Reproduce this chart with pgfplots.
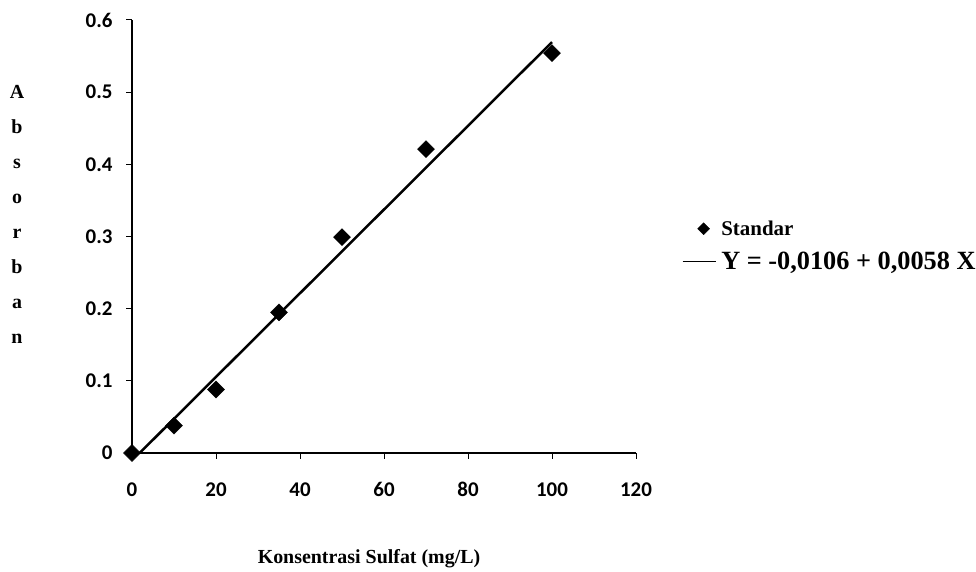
\documentclass[border=0pt]{standalone}
\usepackage{fontspec}
\setmainfont{Liberation Serif}
\newfontfamily\carlito{Carlito}
\usepackage{pgfplots}
\pgfplotsset{compat=1.18}
\pgfplotsset{
  marklegend/.style={legend image code/.code={\draw[##1, mark size=4.2bp] plot coordinates {(21bp,0bp)};}},
  linelegend/.style={legend image code/.code={\draw[##1, line width=1.3bp] (0bp,0bp) -- (33bp,0bp);}},
}
\begin{document}
\begin{tikzpicture}
\useasboundingbox (0bp,0bp) rectangle (976bp,572bp);
\begin{axis}[
  at={(132bp,119bp)}, anchor=south west,
  scale only axis, width=504bp, height=433bp,
  xmin=0, xmax=120, ymin=0, ymax=0.6,
  axis x line=bottom, axis y line=left,
  axis line style={-, line width=1.4bp, black},
  xtick={0,20,40,60,80,100,120},
  ytick={0,0.1,0.2,0.3,0.4,0.5,0.6},
  tick align=outside, major tick length=6bp,
  tick style={line width=1bp, black},
  /pgf/number format/assume math mode=true,
  tick label style={font=\carlito\bfseries\fontsize{21}{21}\selectfont},
  xticklabel style={yshift=-20bp},
  yticklabel style={xshift=-10bp, /pgf/number format/fixed, /pgf/number format/precision=1},
  clip=false,
  legend cell align=left,
  legend style={at={(1.0913,0.5411)}, anchor=north west, draw=none, fill=none,
    inner sep=0pt, outer sep=0pt, row sep=11bp, font=\bfseries,
    /tikz/every odd column/.append style={column sep=3bp}},
]
\addplot[only marks, mark=square*, mark size=6bp,
  mark options={rotate=45, fill=black, draw=black}, marklegend]
  coordinates {(0,0) (10,0.038) (20,0.088) (35,0.195) (50,0.299) (70,0.421) (100,0.554)};
\addlegendentry{\fontsize{21}{21}\selectfont Standar}
\addplot[black, line width=2.5bp, linelegend]
  coordinates {(1.83,0) (100,0.5694)};
\addlegendentry{\fontsize{26.4}{26.4}\selectfont Y = -0,0106 + 0,0058 X}
\end{axis}
\node[anchor=base, font=\bfseries\fontsize{20}{20}\selectfont] at (369bp,9bp) {Konsentrasi Sulfat (mg/L)};
\node[align=center, font=\bfseries\fontsize{20}{35}\selectfont] at (17bp,357.6bp) {A\\b\\s\\o\\r\\b\\a\\n};
\end{tikzpicture}
\end{document}
